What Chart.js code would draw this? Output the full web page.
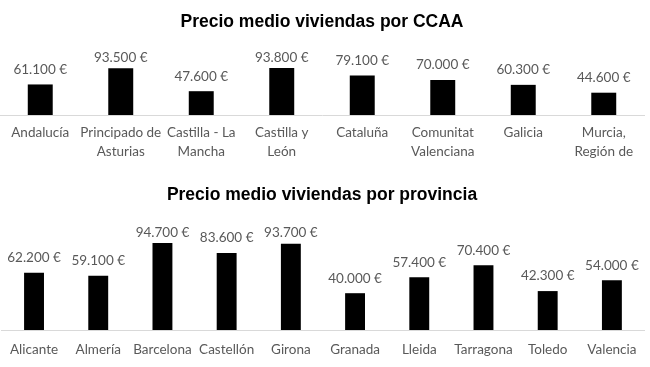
<!DOCTYPE html>
<html>
<head>
<meta charset="utf-8">
<script src="https://cdn.jsdelivr.net/npm/chart.js@4"></script>
<style>
  body { margin: 0; background: #fff; }
  .box { position: absolute; left: 0; width: 650px; }
  #top { top: 0; height: 170px; }
  #bottom { top: 170px; height: 197px; }
</style>
</head>
<body>
<div class="box" id="top"><canvas id="chartCCAA"></canvas></div>
<div class="box" id="bottom"><canvas id="chartProv"></canvas></div>
<script>
const ccaaLabels = [
  "Andalucía",
  ["Principado de", "Asturias"],
  ["Castilla - La", "Mancha"],
  ["Castilla y", "León"],
  "Cataluña",
  ["Comunitat", "Valenciana"],
  "Galicia",
  ["Murcia,", "Región de"]
];
const ccaaValues = [61100, 93500, 47600, 93800, 79100, 70000, 60300, 44600];

const provLabels = ["Alicante", "Almería", "Barcelona", "Castellón", "Girona",
  "Granada", "Lleida", "Tarragona", "Toledo", "Valencia"];
const provValues = [62200, 59100, 94700, 83600, 93700, 40000, 57400, 70400, 42300, 54000];

const grey = "#595959";

function fmtEuro(v) {
  return String(v).replace(/\B(?=(\d{3})+(?!\d))/g, ".") + " €";
}

// data labels above bars, kept inside the chart like Excel does
const barLabels = {
  id: "barLabels",
  afterDatasetsDraw(chart, args, opts) {
    const ctx = chart.ctx;
    const meta = chart.getDatasetMeta(0);
    ctx.save();
    ctx.font = "13.5px Lato";
    ctx.fillStyle = grey;
    ctx.textAlign = "center";
    ctx.textBaseline = "middle";
    meta.data.forEach((bar, i) => {
      let y = bar.y - 15;
      const minY = chart.chartArea.top - opts.over;
      if (y < minY) y = minY;
      ctx.fillText(fmtEuro(chart.data.datasets[0].data[i]), bar.x, y);
    });
    ctx.restore();
  }
};

function makeChart(id, labels, values, cfg) {
  return new Chart(document.getElementById(id), {
    type: "bar",
    data: {
      labels: labels,
      datasets: [{
        data: values,
        backgroundColor: "#000",
        barPercentage: 0.62,
        categoryPercentage: 0.5
      }]
    },
    options: {
      responsive: true,
      maintainAspectRatio: false,
      animation: false,
      layout: { padding: { left: 0, right: 6, top: 0, bottom: 0 } },
      plugins: {
        legend: { display: false },
        tooltip: { enabled: false },
        title: {
          display: true,
          text: cfg.title,
          color: "#000",
          font: { family: "Liberation Sans", size: 17.5, weight: "bold", lineHeight: 1.2 },
          padding: cfg.titlePad
        },
        barLabels: { over: cfg.over }
      },
      scales: {
        x: {
          grid: { display: false, drawTicks: false },
          border: { display: true, color: "#d9d9d9", width: 1 },
          ticks: {
            color: grey,
            font: { family: "Lato", size: 13.5, lineHeight: 1.4 },
            padding: cfg.tickPad,
            maxRotation: 0,
            autoSkip: false
          },
          afterFit: (axis) => { axis.height = cfg.axisH; }
        },
        y: {
          display: false,
          min: 0,
          max: 100000
        }
      }
    },
    plugins: [barLabels]
  });
}

makeChart("chartCCAA", ccaaLabels, ccaaValues, {
  title: "Precio medio viviendas por CCAA",
  titlePad: { top: 12, bottom: 32 },
  tickPad: 8,
  axisH: 55,
  over: 7
});

makeChart("chartProv", provLabels, provValues, {
  title: "Precio medio viviendas por provincia",
  titlePad: { top: 15, bottom: 32 },
  tickPad: 10,
  axisH: 37,
  over: 5
});
</script>
</body>
</html>
